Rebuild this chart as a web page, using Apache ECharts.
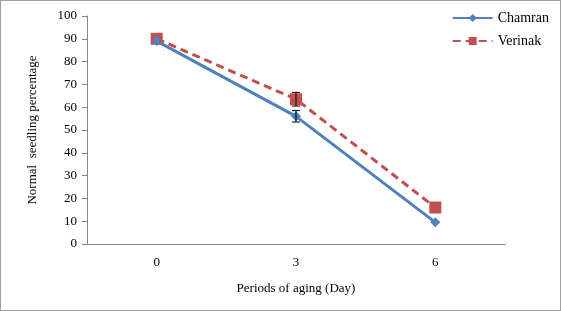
<!DOCTYPE html>
<html>
<head>
<meta charset="utf-8">
<script src="https://cdn.jsdelivr.net/npm/echarts@6/dist/echarts.min.js"></script>
<style>
  html, body { margin: 0; padding: 0; background: #fff; }
  #chart { width: 561px; height: 311px; box-sizing: border-box; border: 1px solid #a0a0a0; }
</style>
</head>
<body>
<div id="chart"></div>
<script>
var days = ['0', '3', '6'];
var chamran = [89, 56, 9.5];
var chamranErr = [0, 2.5, 0];
var verinak = [90, 63.5, 16];
var verinakErr = [0, 3, 0];
var yTicks = [0, 10, 20, 30, 40, 50, 60, 70, 80, 90, 100];

var font = '"Liberation Serif", "DejaVu Serif", serif';

// 误差线
function errBars(vals, errs) {
  return vals.map(function (v, i) { return [i, v - errs[i], v + errs[i]]; });
}
function renderErr(params, api) {
  var x = api.value(0);
  if (api.value(1) === api.value(2)) return null;
  var lo = api.coord([x, api.value(1)]);
  var hi = api.coord([x, api.value(2)]);
  var w = 4;
  var st = { stroke: '#000', lineWidth: 1 };
  return {
    type: 'group',
    children: [
      { type: 'line', shape: { x1: lo[0], y1: lo[1], x2: hi[0], y2: hi[1] }, style: st },
      { type: 'line', shape: { x1: lo[0] - w, y1: lo[1], x2: lo[0] + w, y2: lo[1] }, style: st },
      { type: 'line', shape: { x1: hi[0] - w, y1: hi[1], x2: hi[0] + w, y2: hi[1] }, style: st }
    ]
  };
}

var chart = echarts.init(document.getElementById('chart'));
var option = {
  animation: false,
  textStyle: { fontFamily: font },
  legend: {
    orient: 'vertical',
    right: 6,
    top: 5,
    itemGap: 9,
    itemWidth: 40,
    itemHeight: 10,
    textStyle: { fontFamily: font, fontSize: 14, color: '#000' },
    data: ['Chamran', 'Verinak']
  },
  grid: { left: 86, right: 55, top: 15, bottom: 66 },
  xAxis: {
    type: 'category',
    data: days,
    boundaryGap: true,
    name: 'Periods of aging (Day)',
    nameLocation: 'middle',
    nameGap: 38,
    nameTextStyle: { fontFamily: font, fontSize: 13, color: '#000' },
    axisLine: { lineStyle: { color: '#868686' } },
    axisTick: { length: 4, inside: true, lineStyle: { color: '#868686' } },
    axisLabel: { fontFamily: font, fontSize: 13, color: '#000', margin: 12 }
  },
  yAxis: {
    type: 'value',
    min: yTicks[0],
    max: yTicks[yTicks.length - 1],
    interval: 10,
    name: 'Normal  seedling percentage',
    nameLocation: 'middle',
    nameGap: 48,
    nameTextStyle: { fontFamily: font, fontSize: 13, color: '#000' },
    axisLine: { show: true, lineStyle: { color: '#868686' } },
    axisTick: { show: true, length: 5, lineStyle: { color: '#868686' } },
    splitLine: { show: false },
    axisLabel: { fontFamily: font, fontSize: 13, color: '#000', margin: 10 }
  },
  series: [
    {
      name: 'Chamran',
      type: 'line',
      data: chamran,
      symbol: 'diamond',
      symbolSize: 10,
      itemStyle: { color: '#4F81BD' },
      lineStyle: { color: '#4F81BD', width: 3 },
      z: 3
    },
    {
      name: 'Verinak',
      type: 'line',
      data: verinak,
      symbol: 'rect',
      symbolSize: 12,
      itemStyle: { color: '#C0504D' },
      lineStyle: { color: '#C0504D', width: 3, type: [8, 5] },
      z: 2
    },
    {
      type: 'custom',
      renderItem: renderErr,
      data: errBars(chamran, chamranErr),
      encode: { x: 0, y: [1, 2] },
      z: 4
    },
    {
      type: 'custom',
      renderItem: renderErr,
      data: errBars(verinak, verinakErr),
      encode: { x: 0, y: [1, 2] },
      z: 4
    }
  ]
};
chart.setOption(option);
</script>
</body>
</html>
